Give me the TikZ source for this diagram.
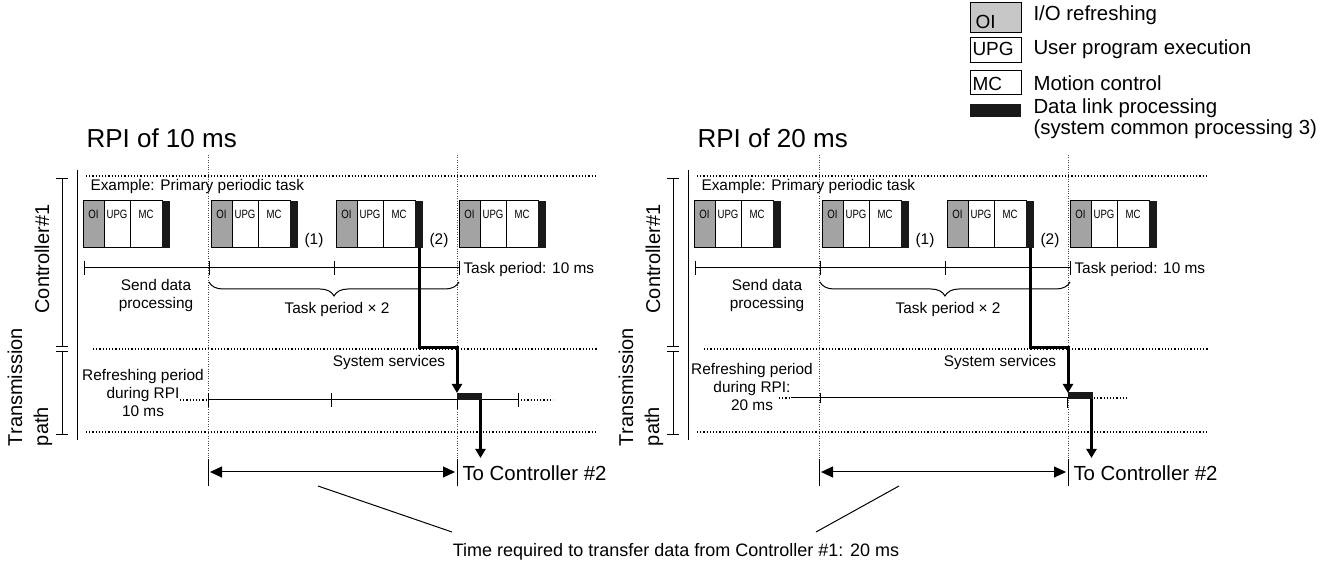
\documentclass[tikz,border=0pt]{standalone}
\usepackage{fontspec}
\setmainfont{Liberation Sans}
\newfontfamily\narrowfont[FakeStretch=0.8]{Liberation Sans}
\usetikzlibrary{arrows.meta,decorations.pathreplacing}
\definecolor{oigray}{gray}{0.64}
\definecolor{keygray}{gray}{0.78}
\definecolor{linkblack}{gray}{0.1}

\begin{document}
\begin{tikzpicture}[x=0.5pt,y=-0.5pt,line width=0.5pt,
  dots/.style={line width=0.7pt,dash pattern=on 0.6pt off 1pt},
  vdots/.style={line width=0.4pt,black!70,dash pattern=on 0.5pt off 0.7pt},
  route/.style={line width=1.5pt,-{Triangle[length=4.5pt,width=5pt]}},
  span/.style={{Triangle[length=6pt,width=5.5pt]}-{Triangle[length=6pt,width=5.5pt]}},
  small/.style={font=\fontsize{7.7}{9}\selectfont,inner sep=0pt},
  blk/.style={font=\narrowfont\fontsize{6}{6}\selectfont,inner sep=0pt},
  side/.style={font=\fontsize{10}{13}\selectfont,rotate=90,inner sep=0pt},
  title/.style={font=\fontsize{13}{15}\selectfont,inner sep=0pt},
  big/.style={font=\fontsize{10.2}{9.2}\selectfont,inner sep=0pt},
  keybox/.style={font=\fontsize{9.5}{10}\selectfont,inner sep=0pt}]

\useasboundingbox (0,0) rectangle (1339,566);

% legend
\filldraw[fill=keygray] (970,3) rectangle (1021,33);
\draw (970,38) rectangle (1021,63);
\draw (970,71) rectangle (1021,95);
\fill[linkblack] (970,104) rectangle (1021,117);
\node[keybox,anchor=west] (keyoi) at (975,22) {OI};
\node[keybox,anchor=west] (keyupg) at (972,49) {UPG};
\node[keybox,anchor=west] (keymc) at (972,84) {MC};
\node[big,anchor=west] (txtoi) at (1033,15) {I/O refreshing};
\node[big,anchor=west] (txtupg) at (1033,49) {User program execution};
\node[big,anchor=west] (txtmc) at (1033,83) {Motion control};
\node[big,anchor=west,align=left] (txtlink) at (1033,119) {Data link processing\\(system common processing 3)};

% both panels
\foreach \p/\ox/\ms in {L/0/10,R/611/20}{
\begin{scope}[shift={(\ox,0)}]
  \node[title,anchor=base west] (rpi\p) at (86,148) {RPI of \ms\ ms};
  \draw (77,170) -- (77,440);
  \draw (56,179) -- (68,179) (62,179) -- (62,347) (56,347) -- (68,347);
  \draw (56,352) -- (68,352) (62,352) -- (62,435) (56,435) -- (68,435);
  \node[side] (ctl\p) at (42,259) {Controller\#1};
  \node[side,align=left] (trans\p) at (30,387) {Transmission\\path};
  \draw[dots] (86,176) -- (597,176);
  \draw[dots] (93,349) -- (597,349);
  \draw[dots] (86,432) -- (597,432);
  \draw[vdots] (208,155) -- (208,460);
  \draw[vdots] (457,155) -- (457,460);
  \node[small,anchor=west] (ex\p) at (90,187) {Example: Primary periodic task};
  \foreach \bx [count=\i] in {83,211,336,459}{
    \filldraw[fill=oigray] (\bx,201) rectangle +(21,47);
    \draw (\bx+21,201) rectangle +(26,47);
    \draw (\bx+47,201) rectangle +(32,47);
    \fill[linkblack] (\bx+79,201) rectangle +(8,47);
    \node[blk] (oi\p\i) at (\bx+10.5,214) {OI};
    \node[blk] (upg\p\i) at (\bx+34,214) {UPG};
    \node[blk] (mc\p\i) at (\bx+63,214) {MC};
  }
  \node[small] (one\p) at (314,241) {(1)};
  \node[small] (two\p) at (439,241) {(2)};
  \draw (84,268) -- (459,268);
  \foreach \tx in {84,209,334,459}
    \draw (\tx,261) -- (\tx,275);
  \node[small,anchor=west] (tp\p) at (463,270) {Task period: 10 ms};
  \node[small,align=center] (send\p) at (156,296) {Send data\\processing};
  \draw[decorate,decoration={brace,mirror,amplitude=7pt}] (209,282) -- (459,282);
  \node[small] (twice\p) at (337,310) {Task period × 2};
  \node[small] (sys\p) at (389,363) {System services};
  \coordinate (out\p) at (419,248);
  \coordinate (in\p) at (457,393);
  \draw[route] (out\p) |- (457,348) -- (in\p);
  \draw (208,459) -- (208,486) (457,459) -- (457,486);
  \draw[span] (210,472) -- (455,472);
  \node[big,anchor=west] (to\p) at (462,473) {To Controller \#2};
\end{scope}
}

% left transmission line
\node[small,align=center] (refL) at (143,393) {Refreshing period\\during RPI\\10 ms};
\draw[dots] (180,400) -- (207,400);
\draw (208,400) -- (518,400);
\foreach \tx in {208,331,518}
  \draw (\tx,393) -- (\tx,407);
\draw (457,400) -- (457,409);
\draw[dots] (521,400) -- (553,400);
\fill[linkblack] (457,393) rectangle (482,400);
\coordinate (dropL) at (480.5,458);
\draw[route] (480.5,400) -- (dropL);

% right transmission line
\node[small,align=center] (refR) at (752,387) {Refreshing period\\during RPI:\\20 ms};
\draw[dots] (779,398) -- (790,398);
\draw (791,398) -- (1068,398);
\draw (820,393) -- (820,403);
\draw (1067,398) -- (1067,408);
\fill[linkblack] (1068,392) rectangle (1093,399);
\draw[dots] (1094,398) -- (1129,398);
\coordinate (dropR) at (1091.5,458);
\draw[route] (1091.5,399) -- (dropR);

% caption
\node[font=\fontsize{9}{10}\selectfont,inner sep=0pt] (cap) at (676,552) {Time required to transfer data from Controller \#1: 20 ms};
\coordinate (capl) at (452,532);
\coordinate (capr) at (816,532);
\draw (318,486) -- (capl);
\draw (899,486) -- (capr);
\end{tikzpicture}
\end{document}
